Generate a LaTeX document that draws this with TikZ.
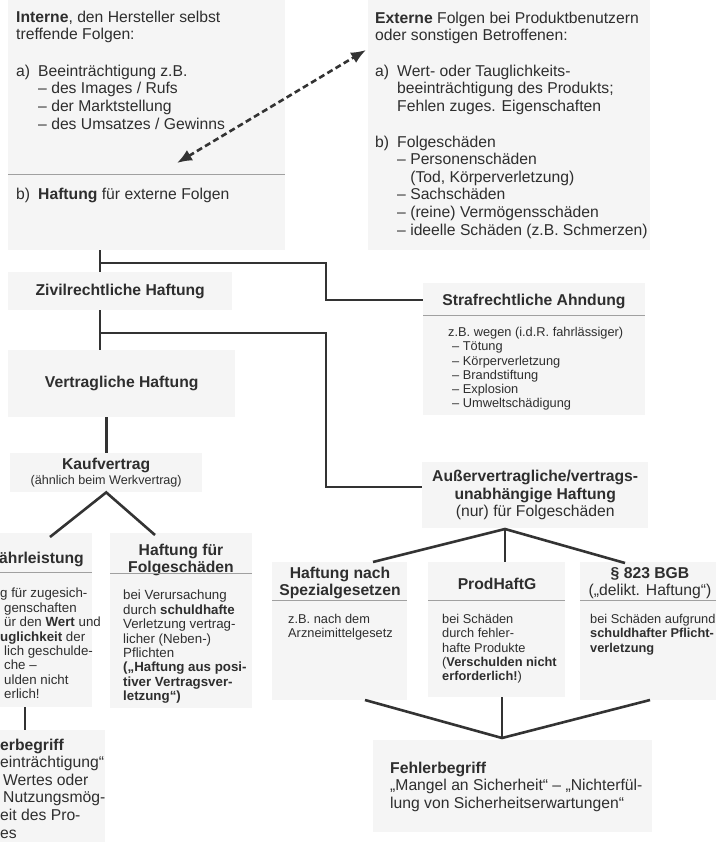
\documentclass[tikz,border=0pt]{standalone}
\usepackage{fontspec}
\setmainfont{Liberation Sans}
\usetikzlibrary{arrows.meta,calc}

\definecolor{ink}{HTML}{2E2E2E}
\definecolor{wire}{HTML}{333333}
\definecolor{panegray}{HTML}{F5F5F5}
\definecolor{rulegray}{HTML}{A0A0A0}

\newcommand{\lbl}[1]{\makebox[22pt][l]{#1}}
\newcommand{\ind}{\hspace*{22pt}}

\tikzset{
    panel/.style = {
        fill=panegray,
        draw=none,
        shape=rectangle,
        anchor=north west,
        inner sep=0pt
    },
    heading/.style = {
        font=\bfseries\fontsize{15.7}{17.6}\selectfont,
        text=ink,
        align=center,
        inner sep=0pt
    },
    body/.style = {
        font=\fontsize{15.7}{17.6}\selectfont,
        text=ink,
        align=left,
        anchor=north west,
        inner sep=0pt
    },
    note/.style = {
        body,
        font=\fontsize{12.8}{14.3}\selectfont
    },
    notewide/.style = {
        body,
        font=\fontsize{13.3}{14.4}\selectfont
    },
    link/.style = {
        draw=wire,
        line width=2.6pt
    },
    rule/.style = {
        draw=rulegray,
        line width=0.9pt
    },
    twoway/.style = {
        draw=wire,
        line width=2.6pt,
        dash pattern=on 6pt off 3.5pt,
        {Latex[length=15pt,width=12pt]}-{Latex[length=15pt,width=12pt]}
    },
}

\begin{document}
\begin{tikzpicture}[x=1pt, y=-1pt]
    \useasboundingbox (0,0) rectangle (715,842);

    % grey panels
    \node[panel, minimum width=277pt, minimum height=250pt] (interne)  at (8,0)     {};
    \node[panel, minimum width=282pt, minimum height=250pt] (externe)  at (368,0)   {};
    \node[panel, heading, minimum width=224pt, minimum height=38pt] (zivil) at (8,272) {Zivilrechtliche Haftung};
    \node[panel, minimum width=222pt, minimum height=132pt] (straf)    at (423,283) {};
    \node[panel, heading, minimum width=227pt, minimum height=67pt] (vertrag) at (8,350) {Vertragliche Haftung};
    \node[panel, heading, minimum width=192pt, minimum height=39pt] (kauf) at (10,453)
        {Kaufvertrag\\[-2pt]{\mdseries\fontsize{12.6}{14}\selectfont (ähnlich beim Werkvertrag)}};
    \node[panel, heading, minimum width=226pt, minimum height=66pt] (ausser) at (422,462)
        {Außervertragliche/vertrags-\\unabhängige Haftung\\{\mdseries (nur) für Folgeschäden}};
    \node[panel, minimum width=97pt,  minimum height=174pt] (gewaehr)  at (-5,533)  {};
    \node[panel, minimum width=142pt, minimum height=175pt] (folge)    at (110,533) {};
    \node[panel, minimum width=110pt, minimum height=112pt] (fehlerL)  at (-5,730)  {};
    \node[panel, minimum width=135pt, minimum height=138pt] (spezial)  at (272,562) {};
    \node[panel, minimum width=137pt, minimum height=135pt] (prodhaft) at (428,562) {};
    \node[panel, minimum width=140pt, minimum height=138pt] (delikt)   at (580,562) {};
    \node[panel, minimum width=279pt, minimum height=92pt]  (fehlerR)  at (373,740) {};

    % texts
    \node[body] (intxt) at (16,10.5) {\textbf{Interne}, den Hersteller selbst\\
        treffende Folgen:\\[19pt]
        \lbl{a)}Beeinträchtigung z.B.\\
        \ind – des Images / Rufs\\
        \ind – der Marktstellung\\
        \ind – des Umsatzes / Gewinns};
    \node[body] (inhaft) at (16,187.5) {\lbl{b)}\textbf{Haftung} für externe Folgen};
    \node[body] (extxt) at (375,11.5) {\textbf{Externe} Folgen bei Produktbenutzern\\
        oder sonstigen Betroffenen:\\[18pt]
        \lbl{a)}Wert- oder Tauglichkeits-\\
        \ind beeinträchtigung des Produkts;\\
        \ind Fehlen zuges. Eigenschaften\\[18pt]
        \lbl{b)}Folgeschäden\\
        \ind – Personenschäden\\
        \ind\phantom{– }(Tod, Körperverletzung)\\
        \ind – Sachschäden\\
        \ind – (reine) Vermögensschäden\\
        \ind – ideelle Schäden (z.B. Schmerzen)};

    \node[heading] (strafttl) at (534,301) {Strafrechtliche Ahndung};
    \node[note] (straftxt) at (448,327) {z.B. wegen (i.d.R. fahrlässiger)\\
        \hspace*{4pt}– Tötung\\
        \hspace*{4pt}– Körperverletzung\\
        \hspace*{4pt}– Brandstiftung\\
        \hspace*{4pt}– Explosion\\
        \hspace*{4pt}– Umweltschädigung};

    \node[heading, anchor=west] (gewttl) at (-1,559) {ährleistung};
    \node[notewide] (gewtxt) at (0,588) {g für zugesich-\\
        \hspace*{4pt}genschaften\\
        \hspace*{4pt}ür den \textbf{Wert} und\\
        \textbf{uglichkeit} der\\
        \hspace*{4pt}lich geschulde-\\
        \hspace*{4pt}che –\\
        \hspace*{4pt}ulden nicht\\
        \hspace*{4pt}erlich!};

    \node[heading] (folgttl) at (181,560) {Haftung für\\Folgeschäden};
    \node[notewide] (folgtxt) at (123,590) {bei Verursachung\\
        durch \textbf{schuldhafte}\\
        Verletzung vertrag-\\
        licher (Neben-)\\
        Pflichten\\
        \textbf{(„Haftung aus posi-}\\
        \textbf{tiver Vertragsver-}\\
        \textbf{letzung“)}};

    \node[body] (fehlLtxt) at (0,738.5) {\textbf{erbegriff}\\
        einträchtigung“\\
        \hspace*{3pt}Wertes oder\\
        \hspace*{3pt}Nutzungsmög-\\
        eit des Pro-\\
        es};

    \node[heading] (spezttl) at (340,583) {Haftung nach\\Spezialgesetzen};
    \node[note] (spezttx) at (288,614) {z.B. nach dem\\Arzneimittelgesetz};

    \node[heading] (prodttl) at (497,584) {ProdHaftG};
    \node[note] (prodtxt) at (442,614) {bei Schäden\\
        durch fehler-\\
        hafte Produkte\\
        (\textbf{Verschulden nicht}\\
        \textbf{erforderlich!})};

    \node[heading] (delttl) at (650,583) {§ 823 BGB\\{\mdseries („delikt. Haftung“)}};
    \node[note] (deltxt) at (590,614) {bei Schäden aufgrund\\
        \textbf{schuldhafter Pflicht-}\\
        \textbf{verletzung}};

    \node[body] (fehlRtxt) at (390,761.5) {\textbf{Fehlerbegriff}\\
        „Mangel an Sicherheit“ – „Nichterfül-\\
        lung von Sicherheitserwartungen“};

    % rules under headings
    \draw[rule] (interne.west |- 0,174)  -- (interne.east |- 0,174);
    \draw[rule] (straf.west |- 0,315)    -- (straf.east |- 0,315);
    \draw[rule] (gewaehr.west |- 0,572)  -- (gewaehr.east |- 0,572);
    \draw[rule] (folge.west |- 0,573)    -- (folge.east |- 0,573);
    \draw[rule] (spezial.west |- 0,600)  -- (spezial.east |- 0,600);
    \draw[rule] (prodhaft.west |- 0,600) -- (prodhaft.east |- 0,600);
    \draw[rule] (delikt.west |- 0,600)   -- (delikt.east |- 0,600);

    % connectors
    \coordinate (spine) at (100,0);
    \coordinate (intip) at (177,163);
    \coordinate (extip) at (366,50);
    \coordinate (gewtip) at (50,537);
    \coordinate (folgtip) at (155,535);
    \coordinate (speztip) at (373,562);
    \coordinate (deltip) at (625,563);
    \coordinate (spezfoot) at (365,700);
    \coordinate (delfoot) at (650,700);
    \coordinate (fan) at (505,529);
    \coordinate (sink) at (502,738);

    \draw[twoway] (intip) -- (extip);

    \path[link] (interne.south -| spine) -- (zivil.north -| spine);
    \path[link] (spine |- 0,263) -| (326,300) -- (straf.west |- 0,300);
    \path[link] (zivil.south -| spine) -- (vertrag.north -| spine);
    \path[link] (spine |- 0,333) -| (326,487) -- (ausser.west |- 0,487);
    \path[link] (vertrag.south -| kauf.north) -- (kauf.north);
    \path[link] (gewtip) -- (kauf.south) -- (folgtip);
    \path[link] (gewaehr.south -| 25,0) -- (fehlerL.north -| 25,0);

    \path[link] (speztip) -- (fan) -- (deltip);
    \path[link] (fan) -- (fan |- prodhaft.north);
    \path[link] (spezfoot) -- (sink) -- (delfoot);
    \path[link] (sink) -- (sink |- prodhaft.south);
\end{tikzpicture}
\end{document}
